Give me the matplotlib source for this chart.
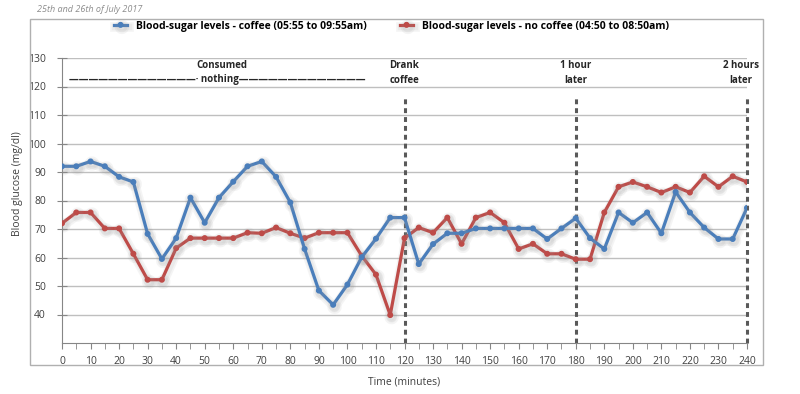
import matplotlib
matplotlib.use("Agg")
import matplotlib.pyplot as plt
import matplotlib.patheffects as pe
from matplotlib.patches import Rectangle

plt.rcParams['font.family'] = ['Open Sans', 'DejaVu Sans']

minutes = list(range(0, 245, 5))
coffee = [92, 92, 93.7, 92, 88.3, 86.5, 68.3, 59.5, 66.8, 81, 72.2, 81, 86.6,
          92, 93.7, 88.3, 79.3, 63, 48.4, 43.4, 50.5, 60.1, 66.6, 74, 74,
          57.7, 64.7, 68.5, 68.5, 70.2, 70.2, 70.2, 70.2, 70.2, 66.5, 70.2, 73.8,
          66.8, 63, 75.8, 72.2, 75.8, 68.5, 83, 75.8, 70.5, 66.5, 66.5, 77.4]
no_coffee = [72, 75.8, 75.8, 70.2, 70.2, 61.3, 52.2, 52.2, 63.3, 66.8, 66.8, 66.8, 66.8,
             68.7, 68.5, 70.5, 68.5, 66.8, 68.7, 68.7, 68.7, 60.6, 54, 39.8, 66.8,
             70.5, 68.7, 74, 64.8, 74, 75.8, 72.2, 63, 64.8, 61.3, 61.3, 59.4,
             59.4, 75.8, 84.8, 86.5, 84.8, 82.8, 84.8, 82.8, 88.5, 84.8, 88.5, 86.5]

labels = ["Blood-sugar levels - coffee (05:55 to 09:55am)",
          "Blood-sugar levels - no coffee (04:50 to 08:50am)"]
events = [120, 180, 240]
event_text = ["Drank\ncoffee", "1 hour\nlater", "2 hours\nlater"]

blue = '#4a7ebb'
red = '#be4b48'
grey_txt = '#404040'

fig = plt.figure(figsize=(8, 3.94), dpi=100)
ax = fig.add_axes([62/800, 1-343/394, 685/800, 285/394])

# soft glow under the lines, like the excel chart
shadow = [pe.SimpleLineShadow(offset=(1, -1.5), shadow_color='#999999', alpha=0.1, linewidth=7),
          pe.SimpleLineShadow(offset=(1, -1.5), shadow_color='#999999', alpha=0.1, linewidth=4.5),
          pe.Normal()]
ax.plot(minutes, coffee, color=blue, lw=2.3, marker='o', ms=3.3, label=labels[0],
        path_effects=shadow, zorder=4)
ax.plot(minutes, no_coffee, color=red, lw=2.3, marker='o', ms=3.3, label=labels[1],
        path_effects=shadow, zorder=3)

for x in events:
    ax.plot([x, x], [30, 117], color='#595959', lw=2.2, dashes=(1.6, 1.3), zorder=2,
            clip_on=False)

ax.set_xlim(0, 240)
ax.set_ylim(30, 130)
ax.set_xticks(range(0, 241, 10))
ax.set_xticks(range(0, 241, 5), minor=True)
ax.set_yticks(range(40, 131, 10))
ax.grid(axis='y', color='#bfbfbf', lw=1)
ax.set_axisbelow(True)
for s in ['top', 'right']:
    ax.spines[s].set_visible(False)
for s in ['left', 'bottom']:
    ax.spines[s].set_color('#868686')
ax.tick_params(axis='x', which='both', direction='out', length=4, color='#868686',
               labelsize=7.5, labelcolor=grey_txt, pad=5)
ax.tick_params(axis='y', direction='inout', length=7, color='#868686',
               labelsize=7.5, labelcolor=grey_txt, pad=8)
ax.set_xlabel("Time (minutes)", fontsize=7.5, color=grey_txt, labelpad=7)

ax.text(56, 127.2, "Consumed", ha='center', va='center', fontsize=7, weight='bold',
        color='#262626')
ax.text(54.5, 122.3, "\u2014" * 13 + "\u00b7 nothing" + "\u2014" * 13, ha='center', va='center',
        fontsize=7, weight='bold', color='#262626')
for x, t in zip(events, event_text):
    xx = 238 if x == 240 else x
    ax.text(xx, 124.8, t, ha='center', va='center', fontsize=7, weight='bold',
            color='#262626', linespacing=1.5, clip_on=False)

fig.legend(loc='center', bbox_to_anchor=(0.489, 1-26/394), ncol=2, frameon=False,
           handlelength=1.3, columnspacing=3.2, handletextpad=0.8,
           prop={'weight': 'bold', 'size': 7.5})

fig.text(18/800, 1-184/394, "Blood glucose (mg/dl)", rotation=90, ha='center', va='center',
         fontsize=7.5, color=grey_txt)
fig.text(37/800, 1-9/394, "25th and 26th of July 2017", ha='left', va='center',
         fontsize=6.5, style='italic', color='#8c8c8c')

fig.patches.append(Rectangle((30/800, 1-365/394), 733/800, 346/394, transform=fig.transFigure,
                             fill=False, edgecolor='#b0b0b0', lw=1))

fig.savefig("out.png", dpi=100)
